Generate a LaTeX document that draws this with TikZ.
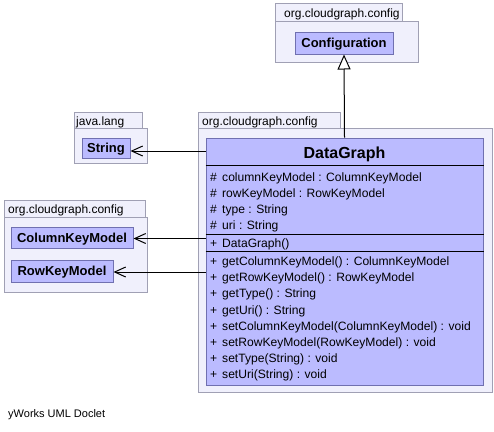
\documentclass[tikz,border=0pt]{standalone}
\usepackage{fontspec}
\setmainfont{Liberation Sans}
\usetikzlibrary{arrows.meta}
\definecolor{clsfill}{RGB}{187,187,255}
\definecolor{clsdraw}{RGB}{112,112,176}
\definecolor{pkgfill}{RGB}{240,240,252}
\definecolor{pkgdraw}{RGB}{160,160,180}
\begin{document}
\begin{tikzpicture}[x=1pt,y=-1pt,
  pkg/.style={draw=pkgdraw, fill=pkgfill, line width=1pt},
  pkglabel/.style={anchor=base west, inner sep=0pt, font=\fontsize{12}{14}\selectfont},
  cls/.style={draw=clsdraw, fill=clsfill, line width=1pt, inner sep=0pt,
    font=\fontsize{13}{15}\bfseries, text height=9.3pt, text depth=0pt},
  sep/.style={draw=black, line width=1pt},
  vis/.style={anchor=base west, inner sep=0pt, font=\fontsize{12.1}{14}\selectfont},
  mem/.style={anchor=base west, inner sep=0pt, font=\fontsize{12.1}{14}\selectfont},
  uses/.style={draw=black, line width=1pt, -{Straight Barb[length=11pt,width=10pt]}},
  gen/.style={draw=black, line width=1pt, -{Triangle[open,length=15pt,width=13pt,fill=white]}}
]
\useasboundingbox (0,0) rectangle (494,431);
\fill[white] (0,0) rectangle (494,431);

% packages
\draw[pkg] (275,21) rectangle (418,62);
\draw[pkg] (275,3) rectangle (402,21);
\node[pkglabel] (p1) at (284,17) {org.cloudgraph.config};

\draw[pkg] (74,128) rectangle (147,163);
\draw[pkg] (74,112) rectangle (142,128);
\node[pkglabel] (p2) at (76,125) {java.lang};

\draw[pkg] (4,217) rectangle (147,292);
\draw[pkg] (4,200) rectangle (145,217);
\node[pkglabel] (p3) at (8,213.5) {org.cloudgraph.config};

\draw[pkg] (198,128) rectangle (492,392);
\draw[pkg] (198,112) rectangle (340,128);
\node[pkglabel] (p4) at (202,125) {org.cloudgraph.config};

% classes
\node[cls, minimum width=98pt, minimum height=22pt] (conf) at (344,43) {Configuration};
\node[cls, minimum width=48pt, minimum height=20pt] (str) at (106,148) {String};
\node[cls, minimum width=122pt, minimum height=21pt] (ckm) at (72,237.5) {ColumnKeyModel};
\node[cls, minimum width=102pt, minimum height=22pt] (rkm) at (62,271) {RowKeyModel};
\node[draw=clsdraw, fill=clsfill, line width=1pt, minimum width=277pt, minimum height=247pt, inner sep=0pt] (dg) at (344.5,261.5) {};

\node[anchor=base, inner sep=0pt, font=\fontsize{16}{18}\bfseries] (dgt) at (344.5,158.5) {DataGraph};
\coordinate (s1) at (0,165);
\coordinate (s2) at (0,234);
\coordinate (s3) at (0,251);
\draw[sep] (dg.west |- s1) -- (dg.east |- s1);
\draw[sep] (dg.west |- s2) -- (dg.east |- s2);
\draw[sep] (dg.west |- s3) -- (dg.east |- s3);

% attributes
\node[vis] (v1) at (210,181) {\#};
\node[mem] (m1) at (222,181) {columnKeyModel : ColumnKeyModel};
\node[vis] (v2) at (210,197.2) {\#};
\node[mem] (m2) at (222,197.2) {rowKeyModel : RowKeyModel};
\node[vis] (v3) at (210,213.4) {\#};
\node[mem] (m3) at (222,213.4) {type : String};
\node[vis] (v4) at (210,229.6) {\#};
\node[mem] (m4) at (222,229.6) {uri : String};
% constructor
\node[vis] (v5) at (210,247) {+};
\node[mem] (m5) at (222,247) {DataGraph()};
% methods
\node[vis] (v6) at (210,265.5) {+};
\node[mem] (m6) at (222,265.5) {getColumnKeyModel() : ColumnKeyModel};
\node[vis] (v7) at (210,281.7) {+};
\node[mem] (m7) at (222,281.7) {getRowKeyModel() : RowKeyModel};
\node[vis] (v8) at (210,297.9) {+};
\node[mem] (m8) at (222,297.9) {getType() : String};
\node[vis] (v9) at (210,314.1) {+};
\node[mem] (m9) at (222,314.1) {getUri() : String};
\node[vis] (v10) at (210,330.3) {+};
\node[mem] (m10) at (222,330.3) {setColumnKeyModel(ColumnKeyModel) : void};
\node[vis] (v11) at (210,346.5) {+};
\node[mem] (m11) at (222,346.5) {setRowKeyModel(RowKeyModel) : void};
\node[vis] (v12) at (210,362.7) {+};
\node[mem] (m12) at (222,362.7) {setType(String) : void};
\node[vis] (v13) at (210,378.9) {+};
\node[mem] (m13) at (222,378.9) {setUri(String) : void};

% connectors
\coordinate (y1) at (0,151);
\coordinate (y2) at (0,238.5);
\coordinate (y3) at (0,272);
\draw[uses] (dg.west |- y1) -- (str.east |- y1);
\draw[uses] (dg.west |- y2) -- (ckm.east |- y2);
\draw[uses] (dg.west |- y3) -- (rkm.east |- y3);
\draw[gen] (dg.north) -- (conf.south);

\node[anchor=base west, inner sep=0pt, font=\fontsize{11}{13}\selectfont] (foot) at (8,417) {yWorks UML Doclet};
\end{tikzpicture}
\end{document}
